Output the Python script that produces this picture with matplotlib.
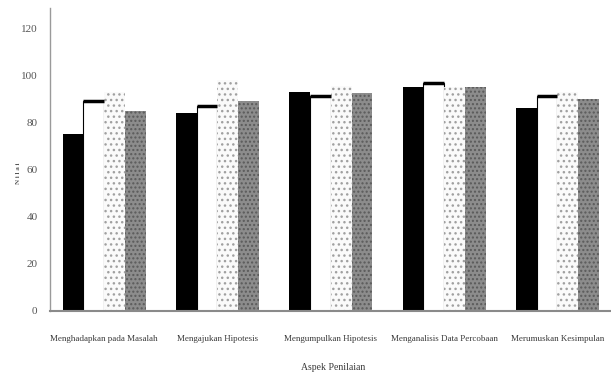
import matplotlib
matplotlib.use("Agg")
import matplotlib.pyplot as plt
import numpy as np

# categories on the x axis (aspek penilaian)
categories = [
    "Menghadapkan pada Masalah",
    "Mengajukan Hipotesis",
    "Mengumpulkan Hipotesis",
    "Menganalisis Data Percobaan",
    "Merumuskan Kesimpulan",
]

# four series (no legend in the source)
series_black = [75, 84, 93, 95, 86]
series_white = [89, 87, 91, 96.5, 91]
series_dotted = [93, 98, 95.5, 95, 93]
series_gray = [85, 89, 92.5, 95, 90]

y_ticks = [0, 20, 40, 60, 80, 100, 120]

plt.rcParams["font.family"] = ["Liberation Serif", "DejaVu Serif"]
plt.rcParams["hatch.linewidth"] = 1.0

fig = plt.figure(figsize=(6.11, 3.79), dpi=100)
ax = fig.add_axes([50 / 611, 68 / 379, 1 - 50 / 611, (311 - 8) / 379])

x = np.arange(len(categories))
w = 0.183

ax.bar(x - 1.5 * w, series_black, w, color="black", linewidth=0)
ax.bar(x - 0.5 * w, series_white, w, facecolor="white", edgecolor="black",
       linewidth=0.8)
# thicker top edge on the white bars
ax.hlines(series_white, x - w, x, colors="black", linewidth=2.5)
ax.bar(x + 0.5 * w, series_dotted, w, facecolor="#fafafa", edgecolor="#a0a0a0",
       hatch="...", linewidth=0)
ax.bar(x + 1.5 * w, series_gray, w, facecolor="#8c8c8c", edgecolor="#5a5a5a",
       hatch="....", linewidth=0)

ax.set_xlim(-0.478, 4.473)
ax.set_ylim(0, 128.5)
ax.set_yticks(y_ticks)
ax.set_yticklabels([str(v) for v in y_ticks], fontsize=8, color="#555555")
ax.tick_params(axis="y", length=0, pad=9)
ax.set_xticks(x)
ax.set_xticklabels(categories, fontsize=6.5, color="#3a3a3a")
ax.tick_params(axis="x", length=0, pad=17)

for side in ["top", "right"]:
    ax.spines[side].set_visible(False)
ax.spines["left"].set_color("#9a9a9a")
ax.spines["left"].set_linewidth(1.0)
ax.spines["bottom"].set_color("#8a8a8a")
ax.spines["bottom"].set_linewidth(1.5)

fig.text(333 / 611, 1 - 368 / 379, "Aspek Penilaian", fontsize=7,
         color="#3a3a3a", ha="center", va="center")
fig.text(18 / 611, 1 - 173 / 379, "N i l a i", fontsize=5, color="#555555",
         rotation=90, ha="center", va="center", fontweight="bold")

fig.savefig("out.png", dpi=100)
